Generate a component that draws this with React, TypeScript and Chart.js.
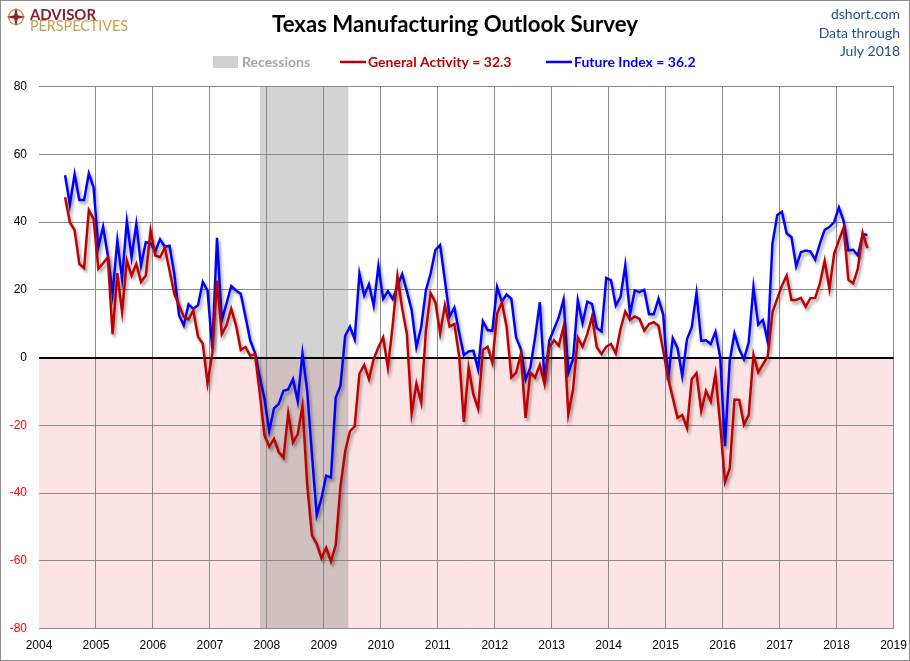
import { useEffect, useRef } from 'react';
import { Chart, registerables, Plugin } from 'chart.js';

Chart.register(...registerables);

// Dallas Fed Texas Manufacturing Outlook Survey, monthly, Jun 2004 .. Jul 2018
const firstYear = 2004;
const firstMonth = 6;

const generalActivity = [
  // 2004 (Jun-Dec)
  47.3, 39.9, 37.6, 27.6, 26.4, 43.5, 40.9,
  // 2005
  26.2, 27.8, 29.6, 6.9, 24.9, 13.4, 28.6, 24.2, 27.6, 22.3, 24.2, 37.5,
  // 2006
  30.1, 29.6, 32.4, 25.7, 18.8, 15.4, 12.0, 11.3, 13.9, 6.1, 4.1, -7.6,
  // 2007
  1.2, 22.7, 6.9, 9.5, 14.4, 9.5, 2.2, 3.1, 0.5, 1.0, -10.5, -23.0,
  // 2008
  -26.3, -24.0, -27.9, -29.6, -16.5, -25.1, -22.6, -14.3, -37.6, -52.5, -55.0, -59.2,
  // 2009
  -56.2, -60.2, -55.4, -38.1, -27.7, -21.8, -20.3, -4.8, -2.2, -6.4, -0.5, 3.0,
  // 2010
  5.9, -3.0, 9.4, 24.0, 14.5, 6.9, -16.6, -7.7, -13.2, 7.9, 19.0, 16.3,
  // 2011
  7.1, 15.5, 9.1, 9.9, 0.5, -19.0, -3.0, -10.9, -15.1, 2.2, 3.2, -1.5,
  // 2012
  12.9, 16.3, 9.1, -5.9, -4.5, 1.0, -17.8, -4.5, -5.9, -2.2, -7.9, 3.0,
  // 2013
  5.1, 3.5, 9.1, -16.8, -9.4, 5.9, 3.2, 6.9, 12.1, 3.0, 1.0, 3.2,
  // 2014
  4.0, 1.2, 8.4, 13.6, 11.1, 12.1, 11.4, 7.9, 9.9, 10.4, 9.4, 2.0,
  // 2015
  -5.9, -11.9, -17.8, -17.0, -20.8, -6.4, -4.6, -15.8, -9.9, -13.0, -4.9, -19.8,
  // 2016
  -36.8, -32.8, -12.4, -12.5, -19.8, -17.0, 0.8, -4.4, -2.0, 0.3, 13.3, 17.3,
  // 2017
  21.2, 24.2, 17.0, 17.0, 17.6, 15.0, 17.5, 17.6, 21.9, 28.5, 20.3, 30.6,
  // 2018 (Jan-Jul)
  34.6, 38.3, 22.9, 21.9, 26.2, 36.8, 32.3,
];

const futureIndex = [
  53.8, 45.1, 54.1, 46.5, 46.5, 54.3, 50.2,
  32.5, 38.6, 30.1, 18.8, 34.5, 23.2, 40.2, 29.6, 39.4, 27.2, 34.0, 33.7,
  31.4, 34.9, 32.7, 33.0, 24.7, 12.5, 9.5, 15.7, 14.4, 15.4, 22.3, 19.8,
  2.6, 35.3, 11.0, 15.9, 21.1, 19.8, 18.8, 12.0, 5.0, 1.3, -5.8, -12.2,
  -21.8, -15.0, -13.7, -9.8, -9.4, -6.4, -12.9, 1.2, -9.9, -28.7, -46.5, -41.6,
  -34.9, -35.4, -11.9, -8.4, 6.4, 9.1, 5.4, 24.8, 18.3, 21.6, 15.3, 27.0,
  17.3, 19.6, 17.3, 21.0, 24.6, 19.5, 14.0, 3.0, 8.9, 19.8, 24.8, 31.7,
  33.2, 22.8, 12.1, 14.7, 7.4, 0.7, 1.8, 2.0, -3.5, 10.7, 8.1, 7.9,
  20.8, 16.5, 18.6, 17.3, 5.9, 2.5, -6.5, -3.0, 5.9, 16.3, -6.9, 5.0,
  8.4, 11.9, 17.1, -4.5, -0.5, 16.8, 10.1, 16.5, 15.8, 8.7, 7.7, 23.5,
  22.8, 15.3, 17.8, 27.2, 12.7, 19.8, 19.3, 20.0, 12.8, 12.8, 17.3, 12.6,
  -6.7, 5.7, 2.8, -5.4, 5.4, 8.9, 19.1, 4.9, 5.1, 4.0, 7.6, 0.0,
  -26.2, -1.0, 7.1, 2.5, -0.5, 4.4, 20.8, 9.7, 11.1, 4.7, 33.6, 42.0,
  43.0, 36.6, 35.6, 26.9, 31.1, 31.6, 31.3, 28.9, 33.6, 37.7, 38.5, 40.0,
  44.3, 40.3, 31.6, 31.8, 30.1, 36.4, 36.2,
];

const yearTicks = [2004, 2005, 2006, 2007, 2008, 2009, 2010, 2011, 2012, 2013, 2014, 2015, 2016, 2017, 2018, 2019];
const valueTicks = [-80, -60, -40, -20, 0, 20, 40, 60, 80];

// Great Recession, Dec 2007 - Jun 2009
const recessionStart = 2007.88;
const recessionEnd = 2009.43;

// mid-month positions in decimal years
const monthPos = generalActivity.map((_, i) => firstYear + (firstMonth - 1 + i + 0.5) / 12);

const latestGeneral = generalActivity[generalActivity.length - 1];
const latestFuture = futureIndex[futureIndex.length - 1];

const RED = '#c00000';
const BLUE = '#0000ff';
const NOTE = '#1f4e8c';
const SANS = 'Lato, "Liberation Sans", sans-serif';

const decorations: Plugin<'line'> = {
  id: 'decorations',
  beforeDraw(chart) {
    const { ctx, chartArea: a } = chart;
    const x = chart.scales.x;
    const y = chart.scales.y;
    ctx.save();
    ctx.fillStyle = '#fff';
    ctx.fillRect(0, 0, chart.width, chart.height);
    const y0 = y.getPixelForValue(0);
    ctx.fillStyle = '#fde3e3';
    ctx.fillRect(a.left, y0, a.right - a.left, a.bottom - y0);
    const x1 = x.getPixelForValue(recessionStart);
    const x2 = x.getPixelForValue(recessionEnd);
    ctx.fillStyle = 'rgba(120,120,120,0.33)';
    ctx.fillRect(x1, a.top, x2 - x1, a.bottom - a.top);
    ctx.restore();
  },
  beforeDatasetDraw(chart) {
    const ctx = chart.ctx;
    ctx.save();
    ctx.shadowColor = 'rgba(0,0,0,0.35)';
    ctx.shadowBlur = 3;
    ctx.shadowOffsetX = 2;
    ctx.shadowOffsetY = 3;
  },
  afterDatasetDraw(chart) {
    chart.ctx.restore();
  },
  afterDraw(chart) {
    const ctx = chart.ctx;
    ctx.save();

    // title
    ctx.fillStyle = '#000';
    ctx.textAlign = 'center';
    ctx.textBaseline = 'middle';
    ctx.font = `bold 23px ${SANS}`;
    ctx.fillText('Texas Manufacturing Outlook Survey', 455, 25, 366);

    // legend
    ctx.textAlign = 'left';
    ctx.font = `bold 14px ${SANS}`;
    ctx.fillStyle = '#d0d0d0';
    ctx.fillRect(213, 56, 25, 12);
    ctx.fillStyle = '#a6a6a6';
    ctx.fillText('Recessions', 242, 62, 73);

    ctx.lineWidth = 2.5;
    ctx.strokeStyle = RED;
    ctx.beginPath();
    ctx.moveTo(340, 62);
    ctx.lineTo(366, 62);
    ctx.stroke();
    ctx.fillStyle = RED;
    ctx.fillText(`General Activity = ${latestGeneral.toFixed(1)}`, 368, 62, 164);

    ctx.strokeStyle = BLUE;
    ctx.beginPath();
    ctx.moveTo(546, 62);
    ctx.lineTo(572, 62);
    ctx.stroke();
    ctx.fillStyle = BLUE;
    ctx.fillText(`Future Index = ${latestFuture.toFixed(1)}`, 574, 62, 128);

    // source notes
    ctx.textAlign = 'right';
    ctx.fillStyle = NOTE;
    ctx.font = `14px ${SANS}`;
    ctx.fillText('dshort.com', 900, 14, 72);
    ctx.fillText('Data through', 900, 33, 82);
    ctx.fillText('July 2018', 900, 51, 62);

    // logo
    ctx.strokeStyle = '#c9a04a';
    ctx.lineWidth = 1.5;
    ctx.beginPath();
    ctx.arc(16, 17, 7.5, 0, Math.PI * 2);
    ctx.stroke();
    ctx.fillStyle = '#8b1e2d';
    ctx.beginPath();
    const pts = 8;
    for (let i = 0; i < pts; i++) {
      const ang = -Math.PI / 2 + (i * Math.PI * 2) / pts;
      const r = i % 2 === 0 ? 9.5 : 2.5;
      const px = 16 + r * Math.cos(ang);
      const py = 17 + r * Math.sin(ang);
      if (i === 0) ctx.moveTo(px, py);
      else ctx.lineTo(px, py);
    }
    ctx.closePath();
    ctx.fill();
    ctx.textAlign = 'left';
    ctx.font = `bold 16px ${SANS}`;
    ctx.fillText('ADVISOR', 30, 15, 66);
    ctx.fillStyle = '#c9a04a';
    ctx.font = `15px ${SANS}`;
    ctx.fillText('PERSPECTIVES', 30, 26.5, 98);

    // frame
    ctx.strokeStyle = '#8c8c8c';
    ctx.lineWidth = 1;
    ctx.strokeRect(0.5, 0.5, chart.width - 1, chart.height - 1);
    ctx.restore();
  },
};

export default function App() {
  const canvasRef = useRef<HTMLCanvasElement>(null);
  const chartRef = useRef<Chart<'line'> | null>(null);

  useEffect(() => {
    const ctx = canvasRef.current?.getContext('2d');
    if (!ctx) return;

    chartRef.current = new Chart(ctx, {
      type: 'line',
      data: {
        datasets: [
          {
            label: 'General Activity',
            data: generalActivity.map((v, i) => ({ x: monthPos[i], y: v })),
            borderColor: RED,
            borderWidth: 2.5,
            pointRadius: 0,
            tension: 0,
            fill: false,
          },
          {
            label: 'Future Index',
            data: futureIndex.map((v, i) => ({ x: monthPos[i], y: v })),
            borderColor: BLUE,
            borderWidth: 2.5,
            pointRadius: 0,
            tension: 0,
            fill: false,
          },
        ],
      },
      options: {
        animation: false,
        responsive: true,
        maintainAspectRatio: false,
        layout: { padding: { top: 86.5, right: 16.5, left: 0, bottom: 0 } },
        plugins: {
          legend: { display: false },
          title: { display: false },
          tooltip: { enabled: false },
        },
        scales: {
          x: {
            type: 'linear',
            min: yearTicks[0],
            max: yearTicks[yearTicks.length - 1],
            afterBuildTicks: (s) => {
              s.ticks = yearTicks.map((v) => ({ value: v }));
            },
            afterFit: (s) => {
              s.height = 32.5;
              s.paddingLeft = 0;
              s.paddingRight = 0;
            },
            border: { display: false },
            grid: {
              drawTicks: false,
              color: (c) => (c.tick && c.tick.value === yearTicks[0] ? 'rgba(0,0,0,0)' : '#8a8a8a'),
              lineWidth: 1,
            },
            ticks: {
              padding: 10,
              color: '#000',
              font: { family: '"Liberation Sans", Arial, sans-serif', size: 12 },
              callback: (v) => String(v),
            },
          },
          y: {
            min: valueTicks[0],
            max: valueTicks[valueTicks.length - 1],
            afterBuildTicks: (s) => {
              s.ticks = valueTicks.map((v) => ({ value: v }));
            },
            afterFit: (s) => {
              s.width = 39;
              s.paddingTop = 0;
              s.paddingBottom = 0;
            },
            border: { display: false },
            grid: {
              drawTicks: false,
              color: (c) => (c.tick && c.tick.value === 0 ? '#000' : '#8a8a8a'),
              lineWidth: (c) => (c.tick && c.tick.value === 0 ? 2 : 1),
            },
            ticks: {
              padding: 12,
              color: (c) => (c.tick && c.tick.value < 0 ? '#ff0000' : '#000'),
              font: { family: '"Liberation Sans", Arial, sans-serif', size: 12 },
              callback: (v) => String(v),
            },
          },
        },
      },
      plugins: [decorations],
    });

    return () => {
      if (chartRef.current) {
        chartRef.current.destroy();
        chartRef.current = null;
      }
    };
  }, []);

  return (
    <div style={{ position: 'absolute', left: 0, top: 0, width: 910, height: 661 }}>
      <canvas ref={canvasRef} />
    </div>
  );
}
